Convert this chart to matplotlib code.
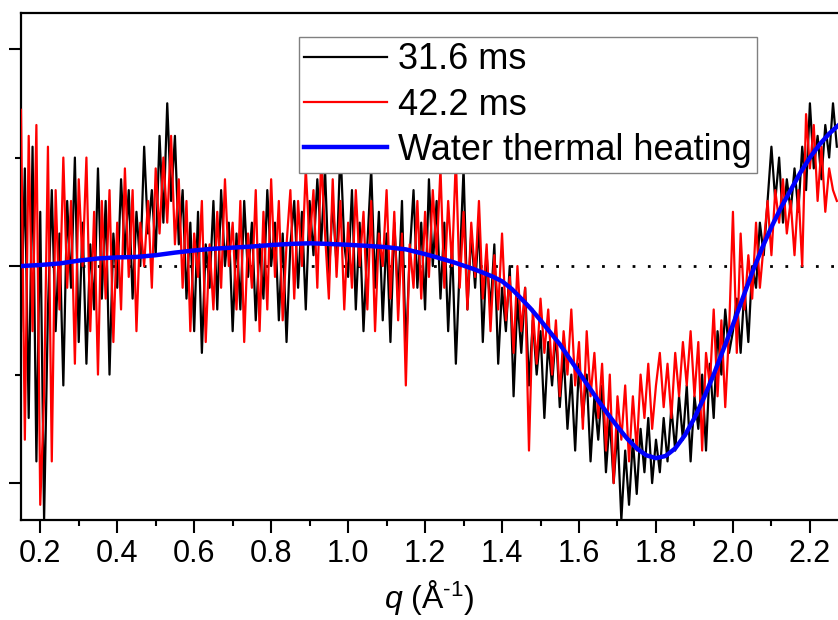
import numpy as np
import matplotlib
matplotlib.use("Agg")
import matplotlib.pyplot as plt
from matplotlib.ticker import MultipleLocator

plt.rcParams["font.family"] = ["Liberation Sans", "DejaVu Sans"]
plt.rcParams["mathtext.fontset"] = "custom"
plt.rcParams["mathtext.rm"] = "Liberation Sans"
plt.rcParams["mathtext.it"] = "Liberation Sans:italic"

# q grid, 0.01 steps from 0.15 to 2.27
q = np.linspace(0.15, 2.27, 213)

# 31.6 ms difference curve (arb. units)
sig_316 = [
    -0.3, 0.45, -0.7, 0.55, -0.9, 0.25, -1.17, -0.2, 0.35, -0.3,
    0.15, -0.55, 0.3, -0.1, 0.5, -0.35, 0.2, -0.45, 0.1, -0.2,
    0.45, -0.15, 0.3, -0.5, 0.15, -0.1, 0.4, 0.05, 0.35, -0.15,
    0.25, 0.0, 0.55, 0.15, 0.35, 0.05, 0.6, 0.2, 0.75, 0.3,
    0.6, 0.1, 0.35, -0.15, 0.2, -0.3, 0.25, -0.4, 0.1, -0.1,
    0.3, -0.2, 0.35, 0.0, 0.2, -0.3, 0.15, -0.2, 0.3, -0.05,
    0.2, -0.25, 0.1, -0.15, 0.35, 0.0, 0.2, -0.25, 0.15, -0.35,
    0.1, 0.3, -0.1, 0.25, -0.2, 0.3, 0.05, 0.4, 0.1, 0.45,
    -0.05, 0.3, 0.0, 0.55, 0.1, -0.05, 0.35, -0.2, 0.2, -0.3,
    0.1, 0.45, -0.1, 0.25, -0.25, 0.15, -0.35, 0.2, -0.15, 0.3,
    -0.4, 0.05, 0.35, -0.1, 0.2, -0.2, 0.4, 0.0, 0.3, -0.15,
    0.2, -0.3, 0.1, -0.45, 0.0, 0.45, -0.2, 0.15, -0.1, 0.2,
    -0.35, 0.05, -0.2, 0.1, -0.45, -0.1, -0.3, 0.0, -0.6, -0.15,
    -0.4, -0.1, -0.55, -0.25, -0.5, -0.3, -0.7, -0.35, -0.55, -0.3,
    -0.65, -0.4, -0.75, -0.5, -0.85, -0.45, -0.7, -0.5, -0.9, -0.6,
    -0.8, -0.55, -0.95, -0.7, -1.0, -0.75, -1.17, -0.85, -1.1, -0.8,
    -1.05, -0.75, -0.95, -0.7, -1.0, -0.8, -0.95, -0.7, -0.9, -0.65,
    -0.85, -0.6, -0.8, -0.55, -0.9, -0.6, -0.75, -0.5, -0.85, -0.45,
    -0.7, -0.3, -0.5, -0.2, -0.4, -0.3, -0.15, -0.4, -0.1, -0.35,
    0.0, -0.1, 0.2, 0.05, 0.3, 0.55, 0.3, 0.5, 0.2, 0.4,
    0.25, 0.45, 0.25, 0.55, 0.35, 0.75, 0.45, 0.6, 0.4, 0.65,
    0.5, 0.75, 0.55,
]

# 42.2 ms difference curve
sig_422 = [
    0.72, -0.8, 0.6, -0.3, 0.65, -1.1, -0.6, 0.55, -0.9, 0.35,
    -0.2, 0.5, -0.1, 0.3, -0.45, 0.4, 0.0, 0.5, -0.3, 0.25,
    -0.5, 0.3, -0.15, 0.35, -0.35, 0.2, -0.2, 0.45, -0.05, 0.35,
    -0.3, 0.2, 0.0, 0.3, -0.1, 0.45, 0.15, 0.5, 0.2, 0.6,
    0.1, 0.4, -0.1, 0.3, -0.3, 0.15, -0.05, 0.3, -0.35, 0.1,
    -0.2, 0.25, -0.1, 0.4, 0.0, 0.2, -0.2, 0.3, -0.35, 0.15,
    -0.1, 0.35, -0.3, 0.25, -0.2, 0.4, -0.05, 0.3, -0.25, 0.1,
    0.35, -0.15, 0.3, 0.0, 0.45, 0.1, 0.35, -0.1, 0.5, 0.15,
    -0.15, 0.4, -0.05, 0.3, -0.2, 0.2, -0.1, 0.35, 0.0, 0.25,
    -0.2, 0.3, -0.3, 0.15, 0.0, 0.35, -0.15, 0.25, -0.25, 0.15,
    -0.55, 0.1, -0.1, 0.3, -0.15, 0.25, -0.05, 0.35, 0.05, 0.45,
    -0.1, 0.3, 0.0, 0.5, -0.1, 0.25, -0.2, 0.2, -0.05, 0.3,
    -0.15, 0.1, -0.3, 0.05, -0.2, 0.15, -0.25, -0.05, -0.4, 0.0,
    -0.3, -0.1, -0.85, -0.2, -0.45, -0.15, -0.4, -0.2, -0.5, -0.25,
    -0.6, -0.3, -0.5, -0.2, -0.55, -0.35, -0.75, -0.3, -0.6, -0.4,
    -0.7, -0.45, -0.85, -0.5, -1.0, -0.6, -0.8, -0.55, -0.9, -0.6,
    -0.85, -0.5, -0.7, -0.45, -0.75, -0.55, -0.4, -0.65, -0.45, -0.7,
    -0.4, -0.6, -0.35, -0.55, -0.3, -0.6, -0.35, -0.85, -0.4, -0.55,
    -0.2, -0.6, -0.25, -0.65, -0.3, 0.25, -0.4, 0.15, -0.2, 0.05,
    -0.15, 0.2, -0.1, 0.1, 0.3, 0.05, 0.35, 0.2, 0.4, 0.15,
    0.3, 0.05, 0.35, 0.0, 0.7, 0.45, 0.65, 0.3, 0.55, 0.25,
    0.45, 0.35, 0.3,
]

# water thermal heating reference curve
q_water = [0.15, 0.20, 0.25, 0.30, 0.35, 0.40, 0.45, 0.50, 0.55, 0.60,
           0.65, 0.70, 0.75, 0.80, 0.85, 0.90, 0.95, 1.00, 1.05, 1.10,
           1.15, 1.200, 1.225, 1.250, 1.275, 1.300, 1.325, 1.350, 1.375,
           1.400, 1.425, 1.450, 1.475, 1.500, 1.525, 1.550, 1.575, 1.600,
           1.625, 1.650, 1.675, 1.700, 1.725, 1.750, 1.775, 1.800, 1.825,
           1.850, 1.875, 1.900, 1.925, 1.950, 1.975, 2.000, 2.025, 2.050,
           2.075, 2.100, 2.125, 2.150, 2.175, 2.200, 2.225, 2.250, 2.275,
           2.300]
water = [0.0, 0.005, 0.012, 0.025, 0.035, 0.04, 0.042, 0.05, 0.062, 0.072,
         0.08, 0.085, 0.09, 0.097, 0.102, 0.105, 0.102, 0.098, 0.093, 0.087,
         0.077, 0.055, 0.043, 0.03, 0.017, 0.002, -0.013, -0.03, -0.048,
         -0.07, -0.105, -0.15, -0.197, -0.25, -0.305, -0.36, -0.425, -0.49,
         -0.555, -0.62, -0.682, -0.74, -0.795, -0.84, -0.872, -0.885, -0.875,
         -0.84, -0.78, -0.70, -0.605, -0.50, -0.385, -0.27, -0.15, -0.03,
         0.08, 0.18, 0.27, 0.35, 0.43, 0.50, 0.56, 0.61, 0.65,
         0.69]

fig = plt.figure(figsize=(8.38, 6.2), dpi=100)
ax = fig.add_axes([21 / 838, 1 - 520 / 620, 1 - 21 / 838, (520 - 13) / 620])

ax.axhline(0, color="black", lw=2, linestyle=(0, (1, 4.5)), zorder=1)
ax.plot(q, sig_316, color="black", lw=1.6, label="31.6 ms", zorder=2)
ax.plot(q, sig_422, color="red", lw=1.6, label="42.2 ms", zorder=3)
ax.plot(q_water, water, color="blue", lw=3.2, label="Water thermal heating",
        zorder=4, solid_joinstyle="round")

ax.set_xlim(0.15, 2.273)
ax.set_ylim(-1.17, 1.166)

ax.xaxis.set_major_locator(MultipleLocator(0.2))
ax.xaxis.set_minor_locator(MultipleLocator(0.1))
ax.yaxis.set_major_locator(MultipleLocator(1.0))
ax.yaxis.set_minor_locator(MultipleLocator(0.5))
ax.set_yticklabels([])
ax.tick_params(axis="both", which="major", direction="out", length=9, width=1.5,
               labelsize=22, top=False, right=False)
ax.tick_params(axis="both", which="minor", direction="out", length=4.5, width=1.5,
               top=False, right=False)
ax.tick_params(axis="x", which="major", pad=5)

for side in ["left", "bottom", "top"]:
    ax.spines[side].set_linewidth(1.6)
ax.spines["right"].set_visible(False)

ax.set_xlabel(r"$q$ (Å$^{\text{-1}}$)", fontsize=23, labelpad=6)

leg = ax.legend(loc="upper left", bbox_to_anchor=(299 / 838, 1 - 37 / 620),
                bbox_transform=fig.transFigure, fontsize=26, frameon=True,
                fancybox=False, edgecolor="gray", framealpha=1,
                handlelength=2.3, handletextpad=0.3, labelspacing=0.28,
                borderpad=0.15, borderaxespad=0)
leg.get_frame().set_linewidth(1.0)

fig.savefig("out.png", dpi=100)
